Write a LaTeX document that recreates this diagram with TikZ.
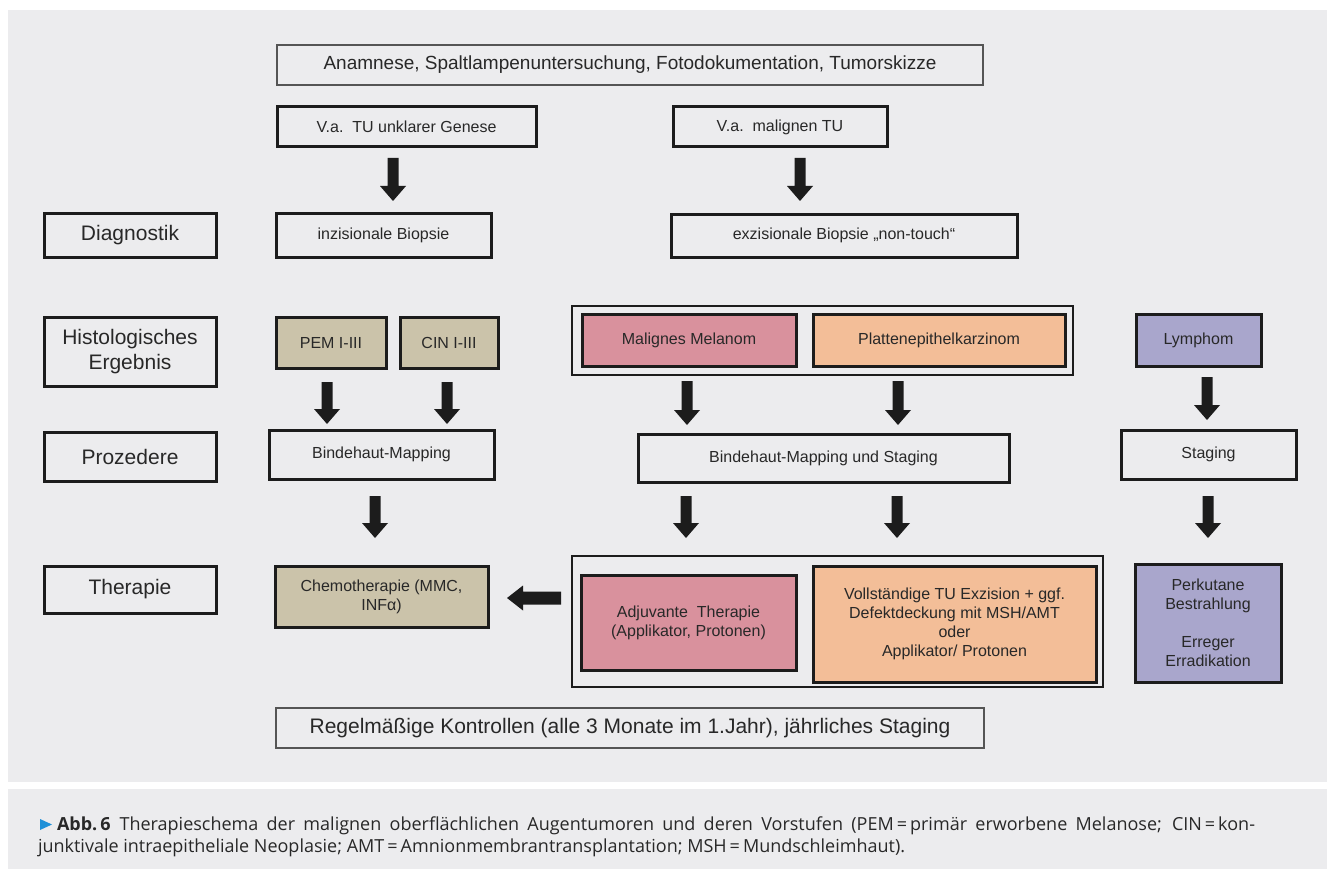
\documentclass[tikz,border=0pt]{standalone}
\usepackage{fontspec}
\setmainfont{Liberation Sans}
\newfontfamily\capfont{Open Sans}
\usetikzlibrary{calc}
\definecolor{bg}{HTML}{ECECEE}
\definecolor{ink}{HTML}{282828}
\definecolor{boxline}{HTML}{1C1C1C}
\definecolor{thinline}{HTML}{555555}
\definecolor{khaki}{HTML}{CBC3AA}
\definecolor{rose}{HTML}{D9919D}
\definecolor{peach}{HTML}{F3BE98}
\definecolor{lav}{HTML}{A9A6CC}
\definecolor{capblue}{HTML}{1E90D8}
\newcommand\fsz[2]{\fontsize{#1}{#2}\selectfont}
\newcommand\bx[7]{\node[#2, minimum width={#5-#3-2}, minimum height={#6-#4-2}] (#1) at ({(#3+#5)/2},{(#4+#6)/2}) {#7};}
\newcommand\darr[2]{\fill[boxline] let \p1=(#1),\p2=(#2) in (\x1-5.5pt,\y1) -- (\x1+5.5pt,\y1) -- (\x1+5.5pt,\y2+15pt) -- (\x1+13pt,\y2+15pt) -- (\x1,\y2) -- (\x1-13pt,\y2+15pt) -- (\x1-5.5pt,\y2+15pt) -- cycle;}
\newcommand\larr[2]{\fill[boxline] let \p1=(#1),\p2=(#2) in (\x1,\y1+6.5pt) -- (\x1,\y1-6.5pt) -- (\x2+16pt,\y1-6.5pt) -- (\x2+16pt,\y1-12.5pt) -- (\x2,\y1) -- (\x2+16pt,\y1+12.5pt) -- (\x2+16pt,\y1+6.5pt) -- cycle;}
\begin{document}
\begin{tikzpicture}[x=1pt,y=-1pt,
 every node/.style={inner sep=0pt, outer sep=0pt, text=ink, align=center},
 tbox/.style={draw=boxline, line width=3pt, font=\fsz{16}{19}},
 lbox/.style={draw=boxline, line width=3pt, font=\fsz{21}{25}},
 nbox/.style={draw=thinline, line width=1.6pt, font=\fsz{19}{23}},
 gbox/.style={draw=boxline, line width=1.8pt},
 captext/.style={anchor=base west, font=\capfont\fsz{18}{22}, align=left}]
\useasboundingbox (0,0) rectangle (1327,869);
\fill[white] (0,0) rectangle (1327,869);
\fill[bg] (8,10) rectangle (1327,782);
\fill[bg] (8,789) rectangle (1327,869);

\bx{top}{nbox}{276}{44}{984}{86}{Anamnese, Spaltlampenuntersuchung, Fotodokumentation, Tumorskizze}
\bx{vaL}{tbox}{276}{106}{537}{148}{V.a.\ \ TU unklarer Genese}
\bx{vaR}{tbox}{672}{106}{888}{148}{V.a.\ \ malignen TU}
\bx{diag}{lbox}{43}{212}{217}{258}{Diagnostik}
\bx{inz}{tbox}{275}{212}{492}{258}{inzisionale Biopsie}
\bx{exz}{tbox}{670}{213}{1018}{258}{exzisionale Biopsie „non-touch“}
\bx{hist}{lbox}{43}{316}{217}{387}{Histologisches\\Ergebnis}
\bx{pem}{tbox,fill=khaki}{275}{316}{387}{369}{PEM I-III}
\bx{cin}{tbox,fill=khaki}{399}{316}{499}{369}{CIN I-III}
\bx{grp1}{gbox}{571}{305}{1074}{376}{}
\bx{mel}{tbox,fill=rose}{581}{313}{797}{367}{Malignes Melanom}
\bx{pla}{tbox,fill=peach}{812}{313}{1066}{367}{Plattenepithelkarzinom}
\bx{lym}{tbox,fill=lav}{1135}{313}{1262}{367}{Lymphom}
\bx{proz}{lbox}{43}{431}{217}{482}{Prozedere}
\bx{bm}{tbox}{268}{429}{495}{480}{Bindehaut-Mapping}
\bx{bms}{tbox}{637}{433}{1010}{483}{Bindehaut-Mapping und Staging}
\bx{stag}{tbox}{1120}{429}{1297}{480}{Staging}
\bx{ther}{lbox}{43}{565}{217}{614}{Therapie}
\bx{chemo}{tbox,fill=khaki}{274}{565}{489}{628}{Chemotherapie (MMC,\\INFα)}
\bx{grp2}{gbox}{571}{555}{1104}{688}{}
\bx{adj}{tbox,fill=rose}{580}{574}{797}{671}{Adjuvante\ \ Therapie\\(Applikator, Protonen)}
\bx{voll}{tbox,fill=peach}{812}{565}{1097}{683}{Vollständige TU Exzision + ggf.\\Defektdeckung mit MSH/AMT\\oder\\Applikator/ Protonen}
\bx{perk}{tbox,fill=lav}{1134}{563}{1282}{683}{Perkutane\\Bestrahlung\\[19pt]Erreger\\Erradikation}
\bx{ctrl}{nbox,font=\fsz{21}{25}}{275}{707}{985}{749}{Regelmäßige Kontrollen (alle 3 Monate im 1.Jahr), jährliches Staging}

% block-arrow connectors
\coordinate (a1s) at (393,158); \coordinate (a1e) at (393,201);
\coordinate (a2s) at (800,158); \coordinate (a2e) at (800,201);
\coordinate (a3s) at (327,382); \coordinate (a3e) at (327,424);
\coordinate (a4s) at (447,382); \coordinate (a4e) at (447,424);
\coordinate (a5s) at (687,381); \coordinate (a5e) at (687,425);
\coordinate (a6s) at (898,381); \coordinate (a6e) at (898,425);
\coordinate (a7s) at (1207,377); \coordinate (a7e) at (1207,420);
\coordinate (a8s) at (375,496); \coordinate (a8e) at (375,538);
\coordinate (a9s) at (686,496); \coordinate (a9e) at (686,538);
\coordinate (a10s) at (897,496); \coordinate (a10e) at (897,538);
\coordinate (a11s) at (1208,496); \coordinate (a11e) at (1208,538);
\coordinate (a12s) at (561,598); \coordinate (a12e) at (507,598);
\darr{a1s}{a1e} \darr{a2s}{a2e} \darr{a3s}{a3e} \darr{a4s}{a4e}
\darr{a5s}{a5e} \darr{a6s}{a6e} \darr{a7s}{a7e} \darr{a8s}{a8e}
\darr{a9s}{a9e} \darr{a10s}{a10e} \darr{a11s}{a11e}
\larr{a12s}{a12e}

% caption
\fill[capblue] (40,819) -- (52,824.5) -- (40,830) -- cycle;
\node[captext] (cap1) at (57,830)
 {\makebox[1198pt][s]{\textbf{Abb.\,6}\enspace Therapieschema der malignen oberflächlichen Augentumoren und deren Vorstufen (PEM\,=\,primär erworbene Melanose; CIN\,=\,kon-}};
\node[captext] (cap2) at (38,852)
 {junktivale intraepitheliale Neoplasie; AMT\,=\,Amnionmembrantransplantation; MSH\,=\,Mundschleimhaut).};
\end{tikzpicture}
\end{document}
